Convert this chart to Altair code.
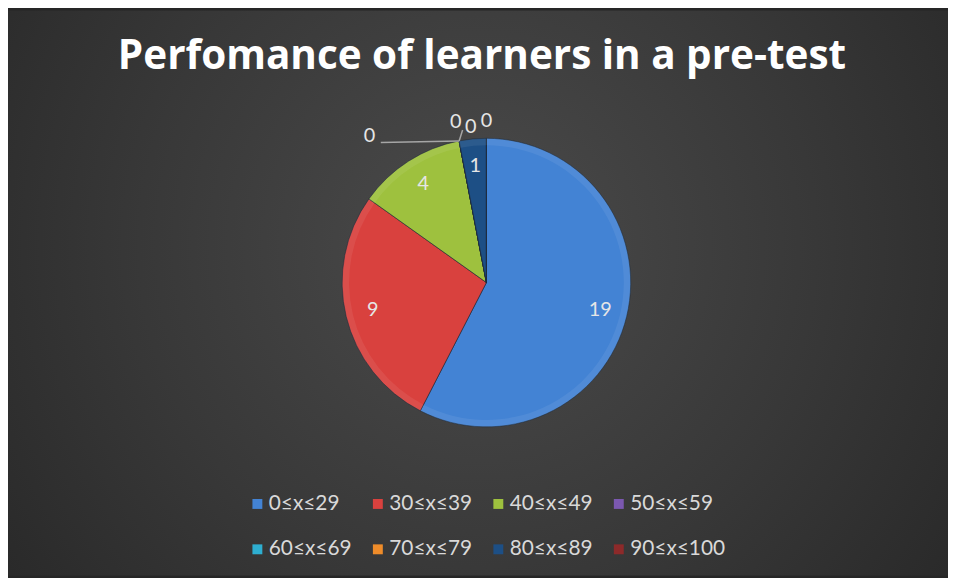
import math
import altair as alt
import pandas as pd

title_text = "Perfomance of learners in a pre-test"
categories = ["0≤x≤29", "30≤x≤39", "40≤x≤49", "50≤x≤59",
              "60≤x≤69", "70≤x≤79", "80≤x≤89", "90≤x≤100"]
values = [19, 9, 4, 0, 0, 0, 1, 0]
colors = ["#4383d4", "#d9413e", "#9ec13e", "#7b58b0",
          "#2eaed0", "#ef8c2a", "#1d4f85", "#8d2a2a"]

W, H, TOP = 948, 490, 80
CX, CY, R = 482.5, 194.5, 145.5

df = pd.DataFrame({"cat": categories, "value": values, "idx": list(range(len(values)))})

base = alt.Chart(df)
theta = alt.Theta("value:Q", stack=True)
order = alt.Order("idx:Q", sort="ascending")

bg = alt.Chart(alt.Data(values=[{}])).mark_rect(
    color=alt.Gradient(
        gradient="radial",
        stops=[alt.GradientStop(color="#4b4b4b", offset=0),
               alt.GradientStop(color="#383838", offset=0.45),
               alt.GradientStop(color="#1f1f1f", offset=1)],
        x1=0.5, y1=0.45, x2=0.5, y2=0.45, r1=0, r2=0.8)
).encode(x=alt.value(0), x2=alt.value(W), y=alt.value(-TOP), y2=alt.value(H))

title = alt.Chart(alt.Data(values=[{"t": title_text}])).mark_text(
    font="Open Sans", fontSize=40.8, fontWeight="bold", color="#ffffff", baseline="middle",
    align="center"
).encode(text="t:N", x=alt.value(W / 2 + 4), y=alt.value(-33))

arcs = base.mark_arc(outerRadius=R, stroke="#1e2a3a", strokeWidth=1, strokeOpacity=0.6).encode(
    theta=theta, order=order,
    x=alt.value(CX), y=alt.value(CY),
    color=alt.Color("cat:N", scale=alt.Scale(domain=categories, range=colors),
                    sort=categories,
                    legend=alt.Legend(title=None, orient="none", legendX=241, legendY=407,
                                      columns=4, direction="horizontal")),
)

rim = base.mark_arc(outerRadius=R, innerRadius=R - 7, color="#ffffff", opacity=0.07).encode(
    theta=theta, order=order, x=alt.value(CX), y=alt.value(CY))

inner = base.transform_calculate(
    lbl="datum.value > 0 ? toString(datum.value) : ''"
).mark_text(radius=118, font="Lato", fontSize=20, color="#e6e6e6").encode(
    theta=theta, order=order, text="lbl:N", x=alt.value(CX), y=alt.value(CY))

zero_offsets = {"50≤x≤59": (-87, 12), "60≤x≤69": (0, -2), "70≤x≤79": (15, 3), "90≤x≤100": (0, 0)}
zero_layers = []
for cat, (dx, dy) in zero_offsets.items():
    zero_layers.append(
        base.transform_calculate(lbl=f"datum.cat === '{cat}' ? '0' : ''")
        .mark_text(radius=163, font="Lato", fontSize=20, color="#e6e6e6", dx=dx, dy=dy)
        .encode(theta=theta, order=order, text="lbl:N", x=alt.value(CX), y=alt.value(CY))
    )

# leader line for the first zero slice, from its position on the rim
cum = sum(values[:3])
ang = 2 * math.pi * cum / sum(values)
ex, ey = CX + R * math.sin(ang), CY - R * math.cos(ang)
leader = alt.Chart(alt.Data(values=[{}])).mark_rule(color="#a6a6a6", strokeWidth=1.5).encode(
    x=alt.value(ex - 79), y=alt.value(ey + 1.5), x2=alt.value(ex), y2=alt.value(ey))
leader2 = alt.Chart(alt.Data(values=[{}])).mark_rule(color="#a6a6a6", strokeWidth=1.5).encode(
    x=alt.value(ex), y=alt.value(ey), x2=alt.value(ex + 3.5), y2=alt.value(ey - 11))

chart = alt.layer(bg, title, arcs, rim, leader, leader2, inner, *zero_layers).properties(
    width=W, height=H,
    padding={"top": TOP, "left": 0, "right": 0, "bottom": 0},
    autosize=alt.AutoSizeParams(type="none"),
).configure(background="#262626").configure_view(stroke=None).configure_legend(
    labelFont="Lato", labelFontSize=21, labelColor="#d9d9d9", symbolType="square",
    symbolSize=100, symbolStrokeWidth=0, rowPadding=24, columnPadding=15.5,
    labelOffset=1, padding=0, labelLimit=200)

chart.save("out.html", embed_options={"renderer": "svg", "actions": False})
